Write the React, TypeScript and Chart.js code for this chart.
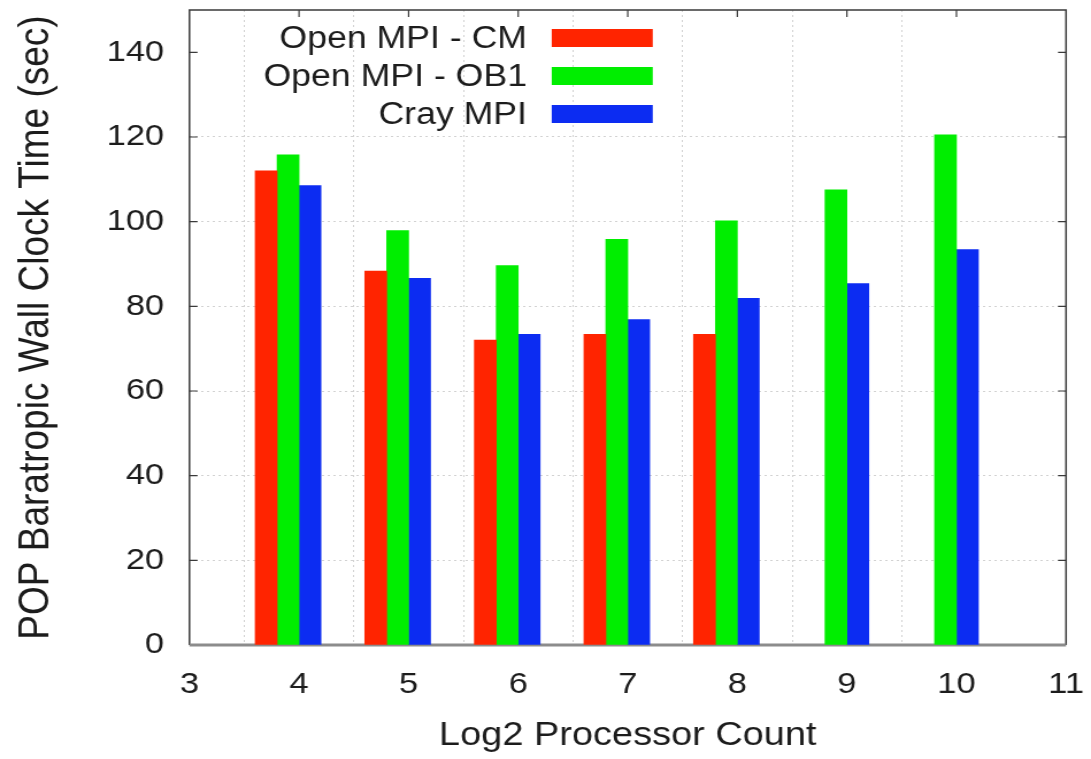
import React, { useEffect, useRef } from "react";
import { Chart, registerables } from "chart.js";

Chart.register(...registerables);

// ---- data ----
const processorLog2 = [4, 5, 6, 7, 8, 9, 10];
const openMpiCm: (number | null)[] = [112, 88.3, 72, 73.4, 73.4, null, null];
const openMpiOb1: (number | null)[] = [115.8, 97.9, 89.6, 95.8, 100.2, 107.5, 120.5];
const crayMpi: (number | null)[] = [108.5, 86.6, 73.4, 76.9, 81.9, 85.4, 93.4];
const seriesLabels = ["Open MPI - CM", "Open MPI - OB1", "Cray MPI"];
const xTitle = "Log2 Processor Count";
const yTitle = "POP Baratropic Wall Clock Time (sec)";

// ---- style / layout ----
const colors = ["#ff2400", "#00ee00", "#0c2cf2"];
const barShift = [-0.3, -0.1, 0.1];
const FONT = "'Liberation Sans', Arial, Helvetica, sans-serif";
const TEXT = "#1c1c1c";
const DISPLAY_W = 1091;
const DISPLAY_H = 759;
const CANVAS_W = 949; // drawn narrower, shown stretched like the reference image
const PLOT_LEFT = 164.8;
const PLOT_RIGHT_PAD = CANVAS_W - 927.3;
const PLOT_TOP = 10;
const X_AXIS_H = DISPLAY_H - 645;

const series = [openMpiCm, openMpiOb1, crayMpi];

const framePlugin = {
  id: "gnuplotFrame",
  beforeDatasetsDraw(chart: any) {
    const { ctx, chartArea } = chart;
    const { left, right, top, bottom } = chartArea;
    const xs = chart.scales.x;
    const ys = chart.scales.y;
    ctx.save();
    ctx.strokeStyle = "#3a3a3a";
    ctx.lineWidth = 1.5;
    ctx.beginPath();
    ctx.moveTo(left, bottom);
    ctx.lineTo(left, top);
    ctx.lineTo(right, top);
    ctx.lineTo(right, bottom);
    ctx.stroke();
    ctx.lineWidth = 1.2;
    ctx.beginPath();
    ys.ticks.forEach((t: any) => {
      if (t.value <= 0) return;
      const py = ys.getPixelForValue(t.value);
      ctx.moveTo(left, py);
      ctx.lineTo(left + 7, py);
      ctx.moveTo(right, py);
      ctx.lineTo(right - 7, py);
    });
    xs.ticks.forEach((t: any) => {
      if (t.value <= xs.min || t.value >= xs.max) return;
      const px = xs.getPixelForValue(t.value);
      ctx.moveTo(px, top);
      ctx.lineTo(px, top + 7);
    });
    ctx.stroke();
    ctx.strokeStyle = "#8c8c8c";
    ctx.lineWidth = 3;
    ctx.beginPath();
    ctx.moveTo(left, bottom);
    ctx.lineTo(right, bottom);
    ctx.stroke();
    ctx.restore();
  },
};

const legendPlugin = {
  id: "gnuplotKey",
  afterDatasetsDraw(chart: any) {
    const { ctx } = chart;
    ctx.save();
    ctx.font = `31px ${FONT}`;
    ctx.textAlign = "right";
    ctx.textBaseline = "middle";
    chart.data.datasets.forEach((ds: any, i: number) => {
      const cy = 38 + i * 38;
      ctx.fillStyle = TEXT;
      ctx.fillText(ds.label, 458.4, cy + 1);
      ctx.fillStyle = ds.backgroundColor;
      ctx.fillRect(479.9, cy - 9, 87.9, 18);
    });
    ctx.restore();
  },
};

export default function App() {
  const ref = useRef<HTMLCanvasElement | null>(null);

  useEffect(() => {
    document.body.style.margin = "0";
    const canvas = ref.current;
    if (!canvas) return;
    const datasets = series.map((vals, si) => ({
      label: seriesLabels[si],
      backgroundColor: colors[si],
      borderWidth: 0,
      grouped: false,
      barPercentage: 1,
      categoryPercentage: 1,
      data: processorLog2
        .map((c, i) => ({ x: Math.round((c + barShift[si]) * 100) / 100, y: vals[i] }))
        .filter((p) => p.y !== null),
    }));

    const chart = new Chart(canvas, {
      type: "bar",
      data: { datasets: datasets as any },
      plugins: [framePlugin, legendPlugin],
      options: {
        animation: false,
        responsive: false,
        devicePixelRatio: 1,
        layout: { padding: { left: 0, right: PLOT_RIGHT_PAD, top: PLOT_TOP, bottom: 0 } },
        plugins: { legend: { display: false }, tooltip: { enabled: false } },
        scales: {
          x: {
            type: "linear",
            min: 3,
            max: 11,
            offset: false,
            ticks: {
              stepSize: 1,
              padding: 22,
              color: TEXT,
              font: { family: FONT, size: 30 },
            },
            grid: {
              drawTicks: false,
              color: (c: any) =>
                c.tick && c.tick.value > 3 && c.tick.value < 11 ? "#d2d2d2" : "rgba(0,0,0,0)",
              lineWidth: 1,
            },
            border: { display: false, dash: [2, 3] },
            title: {
              display: true,
              text: xTitle,
              color: TEXT,
              font: { family: FONT, size: 33 },
              padding: { top: 0, bottom: 3 },
            },
            afterFit: (s: any) => {
              s.height = X_AXIS_H;
              s.paddingLeft = 0;
              s.paddingRight = 0;
            },
          },
          y: {
            type: "linear",
            min: 0,
            max: 150,
            bounds: "data",
            ticks: {
              stepSize: 20,
              includeBounds: false,
              padding: 22,
              color: TEXT,
              font: { family: FONT, size: 30 },
            },
            afterBuildTicks: (s: any) => {
              s.ticks = s.ticks.filter((t: any) => t.value <= 140);
            },
            grid: {
              drawTicks: false,
              color: (c: any) =>
                c.tick && c.tick.value > 0 && c.tick.value < 140 ? "#d2d2d2" : "rgba(0,0,0,0)",
              lineWidth: 1,
            },
            border: { display: false, dash: [2, 3] },
            title: {
              display: true,
              text: yTitle,
              color: TEXT,
              font: { family: FONT, size: 37 },
              padding: { top: 10, bottom: 0 },
            },
            afterFit: (s: any) => {
              s.width = PLOT_LEFT;
              s.paddingTop = 0;
              s.paddingBottom = 0;
            },
          },
        },
      } as any,
    });
    return () => chart.destroy();
  }, []);

  return (
    <div style={{ position: "absolute", left: 0, top: 0, width: DISPLAY_W, height: DISPLAY_H, background: "#fff" }}>
      <canvas
        ref={ref}
        width={CANVAS_W}
        height={DISPLAY_H}
        style={{ display: "block", width: `${DISPLAY_W}px`, height: `${DISPLAY_H}px` }}
      />
    </div>
  );
}
